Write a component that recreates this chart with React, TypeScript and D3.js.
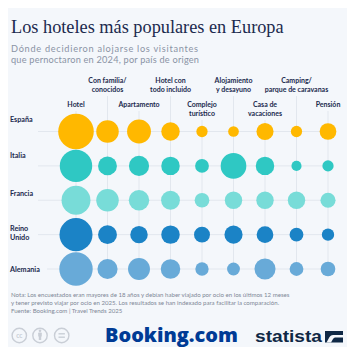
import React from "react";
import * as d3 from "d3";

const countries = ["España", "Italia", "Francia", "Reino Unido", "Alemania"];
const countryLines = [["España"], ["Italia"], ["Francia"], ["Reino", "Unido"], ["Alemania"]];
const countryColors = ["#FFB800", "#2FC8C3", "#78DCD8", "#1B83C6", "#68AAD8"];

const categories = [
  "Hotel",
  "Con familia/conocidos",
  "Apartamento",
  "Hotel con todo incluido",
  "Complejo turístico",
  "Alojamiento y desayuno",
  "Casa de vacaciones",
  "Camping/parque de caravanas",
  "Pensión",
];
const categoryLines = [
  ["Hotel"],
  ["Con familia/", "conocidos"],
  ["Apartamento"],
  ["Hotel con", "todo incluido"],
  ["Complejo", "turístico"],
  ["Alojamiento", "y desayuno"],
  ["Casa de", "vacaciones"],
  ["Camping/", "parque de caravanas"],
  ["Pensión"],
];

// indexed values (bubble area)
const espana = [100, 40, 45, 27, 10, 9, 23, 10, 22];
const italia = [83, 28, 32, 27, 15, 52, 27, 8, 10];
const francia = [66, 40, 33, 28, 17, 24, 24, 24, 18];
const reinoUnido = [86, 28, 24, 27, 20, 26, 22, 15, 12];
const alemania = [88, 32, 38, 30, 14, 13, 35, 15, 17];
const seriesValues = [espana, italia, francia, reinoUnido, alemania];

const subtitleLines = [
  "Dónde decidieron alojarse los visitantes",
  "que pernoctaron en 2024, por país de origen",
];

const noteLines = [
  "Nota: Los encuestados eran mayores de 18 años y debían haber viajado por ocio en los últimos 12 meses",
  "y tener previsto viajar por ocio en 2025. Los resultados se han indexado para facilitar la comparación.",
  "Fuente: Booking.com | Travel Trends 2025",
];

const W = 355;
const H = 355;
const navy = "#1B2A4E";
const sans = "Lato, 'Noto Sans', sans-serif";

export default function App() {
  const x = d3.scalePoint<string>().domain(categories).range([76, 328]);
  const y = d3.scalePoint<string>().domain(countries).range([131.5, 269]);
  const r = d3.scaleSqrt().domain([0, 100]).range([0, 17.8]);

  // label layout offsets relative to row line
  const labelDy = [-9.5, -8, -4.5, -4, 3];

  return (
    <div style={{ margin: -8 }}>
      <svg width={W} height={H} style={{ display: "block" }}>
        <rect width={W} height={H} fill="#F4F7FB" />
        <text x={11} y={33} fontFamily="'Liberation Serif', serif" fontSize={18.3} fill={navy}>
          Los hoteles más populares en Europa
        </text>
        {subtitleLines.map((l, k) => (
          <text
            key={"s" + k}
            x={11}
            y={51.5 + k * 11}
            fontFamily="Lato, sans-serif"
            fontSize={9.2}
            fill="#8A93A5"
            textLength={k === 0 ? 187 : 188}
            lengthAdjust="spacing"
          >
            {l}
          </text>
        ))}

        {/* grid lines */}
        {countries.map((c, i) => (
          <line
            key={"h" + c}
            x1={i === 4 ? 47 : 38}
            x2={x(categories[categories.length - 1])}
            y1={y(c)}
            y2={y(c)}
            stroke="#E2E7EE"
            strokeWidth={1}
          />
        ))}
        {categories.map((cat, j) => {
          const high = j % 2 === 1;
          const lines = categoryLines[j];
          const base = high ? 83 : 107;
          const top = base + (lines.length - 1) * 9 + 4;
          return (
            <line
              key={"v" + cat}
              x1={x(cat)}
              x2={x(cat)}
              y1={top}
              y2={y(countries[countries.length - 1])}
              stroke="#E2E7EE"
              strokeWidth={1}
            />
          );
        })}

        {/* column headers */}
        {categories.map((cat, j) => {
          const high = j % 2 === 1;
          const base = high ? 83 : 107;
          return (
            <text
              key={"c" + cat}
              textAnchor="middle"
              fontFamily={sans}
              fontSize={7}
              fontWeight={700}
              fill={navy}
            >
              {categoryLines[j].map((l, k) => (
                <tspan key={k} x={x(cat)} y={base + k * 9}>
                  {l}
                </tspan>
              ))}
            </text>
          );
        })}

        {/* row labels */}
        {countries.map((c, i) => (
          <text key={"r" + c} fontFamily={sans} fontSize={7.2} fontWeight={700} fill={navy}>
            {countryLines[i].map((l, k) => (
              <tspan key={k} x={10} y={(y(c) as number) + labelDy[i] + k * 9}>
                {l}
              </tspan>
            ))}
          </text>
        ))}

        {/* bubbles */}
        {countries.map((c, i) =>
          seriesValues[i].map((v, j) => (
            <circle
              key={c + j}
              cx={x(categories[j])}
              cy={y(c)}
              r={r(v)}
              fill={countryColors[i]}
            />
          ))
        )}

        {/* notes */}
        <text fontFamily={sans} fontSize={6.1} fill="#7F8797">
          {noteLines.map((l, k) => (
            <tspan key={k} x={11} y={296.5 + k * 8.4}>
              {l}
            </tspan>
          ))}
        </text>

        {/* CC icons */}
        <g stroke="#C9CED6" strokeWidth={1.4} fill="none">
          <circle cx={19.3} cy={335.5} r={7.2} />
          <circle cx={40} cy={335.5} r={7.2} />
          <circle cx={61.7} cy={335.5} r={7.2} />
          <line x1={58.5} x2={64.9} y1={333.8} y2={333.8} />
          <line x1={58.5} x2={64.9} y1={337.2} y2={337.2} />
        </g>
        <text x={19.3} y={337.8} textAnchor="middle" fontFamily={sans} fontSize={6.5} fontWeight={700} fill="#C9CED6">
          cc
        </text>
        <g fill="#C9CED6">
          <circle cx={40} cy={330.8} r={1.3} />
          <rect x={38.2} y={332.6} width={3.6} height={4} rx={0.6} />
          <rect x={38.8} y={336} width={2.4} height={4} />
        </g>

        {/* Booking.com logo */}
        <text
          x={105}
          y={342.3}
          fontFamily="'Open Sans', 'Liberation Sans', sans-serif"
          fontSize={20}
          fontWeight={800}
          fill="#003B95"
          textLength={133}
          lengthAdjust="spacingAndGlyphs"
        >
          Booking.com
        </text>

        {/* statista logo */}
        <text
          x={255}
          y={342}
          fontFamily="'Liberation Sans', Arial, sans-serif"
          fontSize={17}
          fontWeight={700}
          fill="#0F2845"
          textLength={67}
          lengthAdjust="spacingAndGlyphs"
        >
          statista
        </text>
        <rect x={325} y={331} width={18} height={11.5} fill="#0F2845" />
        <path d="M326.5,342.5 L329.5,337 Q330.8,335 333,335 L343,335 L343,337.5 L335,337.5 Q333.8,337.5 333,339 L331,342.5 Z" fill="#F4F7FB" />
      </svg>
    </div>
  );
}
